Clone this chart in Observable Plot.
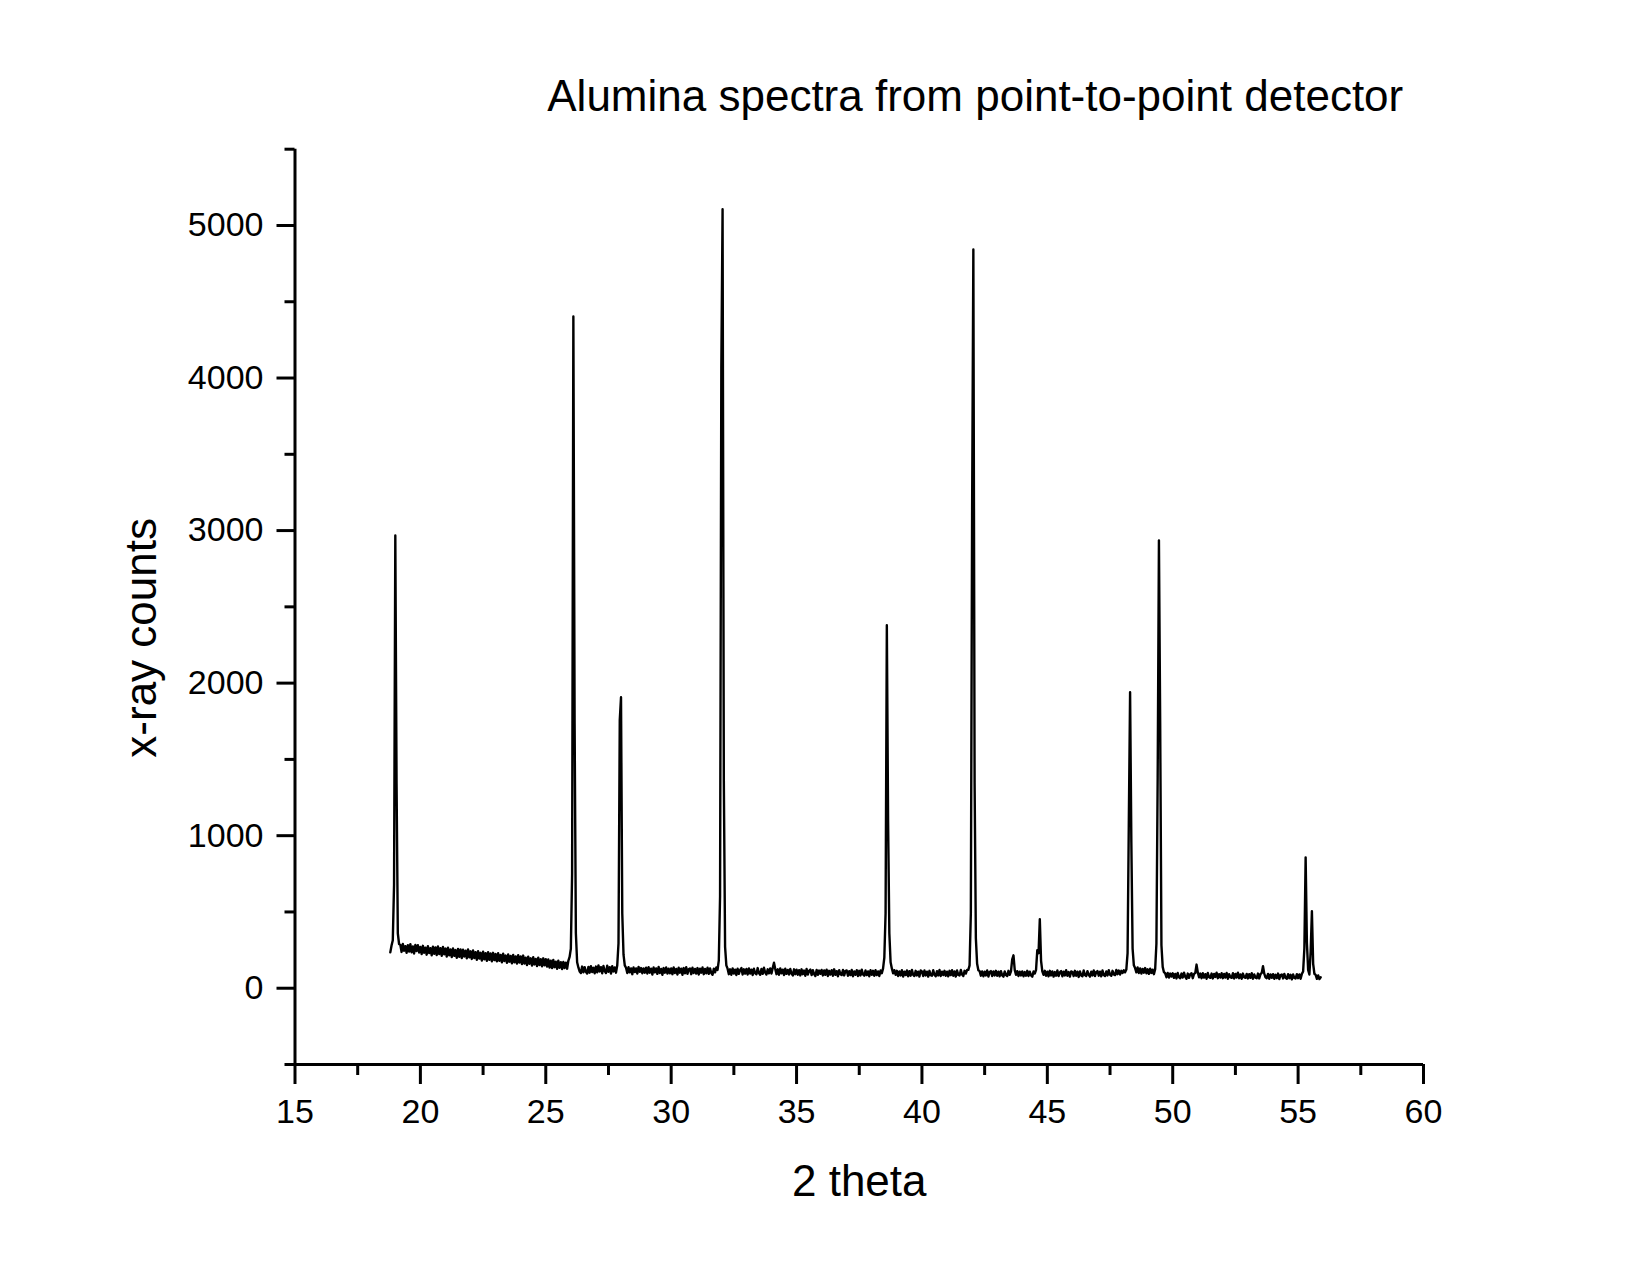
<!DOCTYPE html>
<html>
<head>
<meta charset="utf-8">
<script src="https://cdn.jsdelivr.net/npm/d3@7"></script>
<script src="https://cdn.jsdelivr.net/npm/@observablehq/plot@0.6"></script>
<style>
html, body { margin: 0; padding: 0; background: #fff; }
#chart svg { display: block; }
</style>
</head>
<body>
<div id="chart"></div>
<script>
const titleText = "Alumina spectra from point-to-point detector";
const xLabel = "2 theta";
const yLabel = "x-ray counts";

const xMajorTicks = [15, 20, 25, 30, 35, 40, 45, 50, 55, 60];
const xMinorTicks = [17.5, 22.5, 27.5, 32.5, 37.5, 42.5, 47.5, 52.5, 57.5];
const yMajorTicks = [0, 1000, 2000, 3000, 4000, 5000];
const yMinorTicks = [-500, 500, 1500, 2500, 3500, 4500, 5500];

// scan grid: 2-theta from 18.80 to 55.90 in 0.05 degree steps
const thetaStart = 18.8;
const thetaStep = 0.05;
// counts, one row per degree
const counts = [
  235, 280, 315, 680,                                                                                    // 18.80-18.95
  2968, 1343, 360, 290, 284, 238, 290, 246, 276, 232, 282, 240, 288, 236, 274, 228, 284, 244, 282, 234, // 19
  270, 224, 278, 232, 266, 220, 276, 230, 262, 216, 272, 226, 268, 218, 274, 224, 262, 212, 270, 222,   // 20
  260, 208, 266, 216, 254, 204, 260, 212, 250, 200, 258, 206, 254, 198, 252, 208, 246, 196, 254, 202,   // 21
  242, 192, 248, 198, 236, 186, 242, 194, 232, 182, 240, 190, 230, 180, 236, 186, 228, 176, 232, 184,   // 22
  224, 176, 230, 180, 218, 170, 226, 178, 214, 166, 222, 174, 212, 164, 218, 170, 208, 162, 216, 168,   // 23
  208, 158, 214, 162, 200, 152, 206, 160, 196, 148, 204, 156, 192, 146, 200, 152, 190, 144, 196, 150,   // 24
  190, 142, 188, 136, 180, 132, 186, 138, 174, 128, 180, 134, 170, 126, 172, 132, 168, 128, 180, 205,   // 25
  260, 752, 4403, 1737, 360, 170, 136, 110, 100, 142, 104, 138, 108, 96, 140, 102, 144, 106, 134, 98,   // 26
  142, 104, 150, 110, 138, 98, 146, 112, 100, 148, 108, 138, 96, 144, 110, 136, 102, 150, 295, 1756,    // 27
  1907, 491, 220, 150, 134, 100, 138, 104, 130, 92, 136, 106, 130, 96, 140, 108, 132, 98, 130, 102,     // 28
  134, 96, 138, 102, 128, 90, 136, 104, 130, 94, 140, 100, 126, 88, 132, 102, 136, 96, 128, 98,         // 29
  130, 92, 136, 100, 126, 90, 134, 102, 128, 88, 132, 98, 138, 94, 124, 130, 92, 134, 100, 126,         // 30
  96, 132, 90, 128, 102, 136, 92, 126, 98, 134, 94, 130, 100, 88, 128, 104, 136, 120, 183, 605,         // 31
  4064, 5107, 1363, 271, 150, 128, 92, 124, 88, 130, 96, 122, 86, 128, 94, 120, 132, 90, 124, 96,       // 32
  126, 90, 130, 96, 122, 86, 128, 98, 92, 132, 100, 88, 126, 94, 134, 102, 90, 124, 98, 130,            // 33
  96, 132, 167, 126, 92, 124, 88, 130, 98, 122, 86, 128, 94, 120, 90, 126, 96, 84, 124, 92,             // 34
  122, 88, 118, 84, 124, 92, 116, 82, 126, 90, 114, 122, 86, 118, 92, 80, 120, 88, 116, 94,             // 35
  120, 84, 116, 88, 122, 80, 114, 90, 118, 82, 124, 88, 112, 78, 118, 92, 86, 120, 84, 114,             // 36
  116, 82, 112, 86, 120, 78, 110, 88, 118, 80, 114, 84, 122, 90, 82, 116, 86, 110, 78, 118,             // 37
  88, 114, 82, 118, 86, 110, 80, 116, 98, 130, 200, 491, 2379, 1100, 360, 170, 130, 98, 118, 88,        // 38
  114, 80, 110, 84, 118, 76, 108, 86, 116, 78, 112, 82, 120, 88, 80, 114, 84, 108, 76, 116,             // 39
  110, 80, 116, 84, 108, 76, 114, 86, 82, 118, 88, 78, 112, 84, 120, 80, 108, 86, 114, 82,              // 40
  108, 78, 114, 86, 118, 82, 110, 76, 116, 88, 84, 120, 90, 80, 114, 96, 120, 120, 150, 491,            // 41
  3100, 4843, 1347, 328, 160, 118, 112, 82, 110, 78, 108, 84, 116, 76, 106, 112, 80, 110, 84, 114,      // 42
  82, 108, 78, 112, 84, 76, 110, 86, 80, 114, 88, 110, 190, 216, 120, 88, 112, 80, 108, 84,             // 43
  110, 78, 106, 82, 114, 80, 108, 84, 76, 110, 96, 120, 250, 230, 452, 180, 110, 88, 114, 82,           // 44
  108, 78, 114, 84, 110, 76, 106, 82, 116, 80, 104, 112, 78, 108, 84, 118, 82, 106, 76, 110,            // 45
  106, 80, 114, 82, 108, 74, 110, 84, 78, 116, 86, 80, 112, 88, 76, 108, 84, 116, 80, 106,              // 46
  112, 82, 108, 78, 116, 86, 80, 110, 84, 118, 88, 82, 114, 90, 86, 120, 92, 116, 90, 114,              // 47
  100, 118, 104, 122, 230, 1101, 1940, 959, 260, 150, 132, 104, 136, 100, 130, 96, 126, 102, 132, 98,   // 48
  124, 94, 128, 100, 122, 92, 124, 293, 1385, 2936, 1735, 282, 140, 105, 98, 72, 100, 70, 96, 76,       // 49
  98, 68, 94, 64, 100, 72, 66, 96, 70, 102, 74, 62, 96, 68, 92, 98, 66, 94, 100, 155,                   // 50
  104, 72, 96, 66, 98, 70, 92, 62, 100, 72, 68, 96, 64, 94, 74, 102, 66, 92, 70, 98,                    // 51
  66, 94, 70, 100, 62, 92, 72, 68, 98, 64, 94, 70, 102, 66, 90, 62, 96, 72, 68, 94,                     // 52
  64, 92, 68, 98, 62, 90, 70, 66, 96, 64, 92, 100, 144, 96, 72, 66, 94, 62, 90, 68,                     // 53
  92, 62, 88, 66, 96, 60, 86, 90, 64, 94, 68, 62, 92, 66, 88, 58, 90, 68, 64, 92,                       // 54
  66, 90, 62, 94, 110, 262, 858, 300, 120, 90, 238, 505, 160, 95, 88, 62, 84, 60, 72                    // 55.00-55.90
];

const spectrum = counts.map((c, i) => ({theta: +(thetaStart + i * thetaStep).toFixed(2), counts: c}));

const font = '"Liberation Sans", Arial, Helvetica, sans-serif';

const chart = Plot.plot({
  width: 1650,
  height: 1275,
  marginLeft: 294.5,
  marginRight: 227,
  marginTop: 148.7,
  marginBottom: 211,
  style: {fontFamily: font, background: "#fff", color: "#000", overflow: "visible"},
  x: {domain: [15, 60]},
  y: {domain: [-500, 5500]},
  marks: [
    Plot.line(spectrum, {x: "theta", y: "counts", stroke: "#000", strokeWidth: 2.4}),
    Plot.ruleX([15], {stroke: "#000", strokeWidth: 3}),
    Plot.ruleY([-500], {stroke: "#000", strokeWidth: 3}),
    Plot.axisX(xMajorTicks, {tickSize: 20, tickPadding: 14, fontSize: 34, strokeWidth: 3, stroke: "#000", fill: "#000", tickFormat: d => String(d), label: null}),
    Plot.axisX(xMinorTicks, {tickSize: 11, strokeWidth: 3, stroke: "#000", tickFormat: () => "", label: null}),
    Plot.axisY(yMajorTicks, {tickSize: 18, tickPadding: 13.5, fontSize: 34, strokeWidth: 3, stroke: "#000", fill: "#000", tickFormat: d => String(d), label: null}),
    Plot.axisY(yMinorTicks, {tickSize: 10, strokeWidth: 3, stroke: "#000", tickFormat: () => "", label: null}),
    Plot.text([titleText], {text: d => d, frameAnchor: "top", textAnchor: "middle", dx: 116, dy: -52.7, fontSize: 44, lineAnchor: "middle", fill: "#000"}),
    Plot.text([xLabel], {text: d => d, frameAnchor: "bottom", textAnchor: "middle", dy: 117, fontSize: 44, lineAnchor: "middle", fill: "#000"}),
    Plot.text([yLabel], {text: d => d, frameAnchor: "left", textAnchor: "middle", rotate: -90, dx: -153.5, dy: 31, fontSize: 44, lineAnchor: "middle", fill: "#000"})
  ]
});

document.getElementById("chart").appendChild(chart);
</script>
</body>
</html>
